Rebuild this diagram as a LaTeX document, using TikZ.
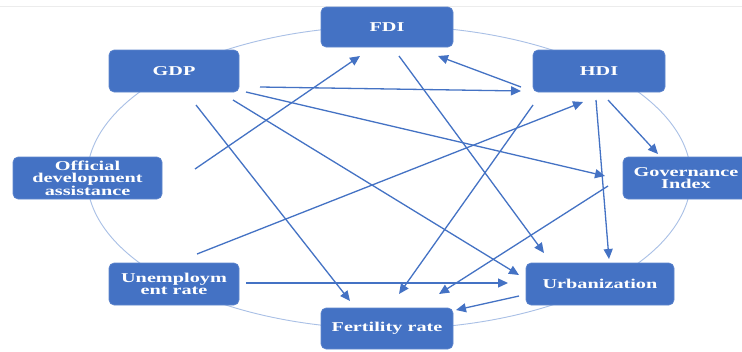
\documentclass[tikz,border=0pt]{standalone}
\usepackage{fontspec}
\setmainfont{Liberation Serif}[FakeStretch=1.5]
\usetikzlibrary{arrows.meta}
\definecolor{boxblue}{HTML}{4472C4}
\definecolor{ringblue}{HTML}{A9C0E6}
\definecolor{topgray}{HTML}{ECECEC}
\tikzset{
  box/.style={draw=boxblue!85!white, line width=0.6pt, fill=boxblue, rounded corners=5pt, text=white,
    font=\bfseries\fontsize{13.5}{12.5}\selectfont, align=center, inner sep=0pt},
  link/.style={draw=boxblue, line width=1.3pt, -{Triangle[length=10pt,width=9pt]}},
  ring/.style={draw=ringblue, line width=0.9pt}
}
\begin{document}
\begin{tikzpicture}[x=1pt,y=-1pt]
\useasboundingbox (0,0) rectangle (742,351);
\clip (0,0) rectangle (742,351);
\fill[white] (0,0) rectangle (742,351);
\draw[topgray, line width=1.2pt] (0,6.5) -- (742,6.5);
\draw[ring] (389,177.5) ellipse [x radius=302, y radius=151.5];

\node[box, minimum width=132pt, minimum height=40pt] (fdi) at (387,27) {FDI};
\node[box, minimum width=130pt, minimum height=42pt] (gdp) at (174,71) {GDP};
\node[box, minimum width=132pt, minimum height=42pt] (hdi) at (599,71) {HDI};
\node[box, minimum width=149pt, minimum height=42pt] (oda) at (87.5,178) {Official\\development\\assistance};
\node[box, minimum width=126pt, minimum height=42pt] (gov) at (686,178) {Governance\\Index};
\node[box, minimum width=130pt, minimum height=42pt] (unemp) at (174,284) {Unemploym\\ent rate};
\node[box, minimum width=132pt, minimum height=41pt] (fert) at (387,328.5) {Fertility rate};
\node[box, minimum width=148pt, minimum height=42pt] (urb) at (600,284) {Urbanization};

\draw[link] ([shift={(86,16)}]gdp.center) -- ([shift={(-78,20)}]hdi.center);
\draw[link] ([shift={(72,21)}]gdp.center) -- ([shift={(-81,-2)}]gov.center);
\draw[link] ([shift={(59,29)}]gdp.center) -- ([shift={(-81,-9)}]urb.center);
\draw[link] ([shift={(22,34)}]gdp.center) -- ([shift={(-37,-27.5)}]fert.center);
\draw[link] ([shift={(107.5,-9)}]oda.center) -- ([shift={(-27,29)}]fdi.center);
\draw[link] ([shift={(12,29)}]fdi.center) -- ([shift={(-56,-31)}]urb.center);
\draw[link] ([shift={(-78,16)}]hdi.center) -- ([shift={(51,29)}]fdi.center);
\draw[link] ([shift={(-66,34)}]hdi.center) -- ([shift={(12,-34.5)}]fert.center);
\draw[link] ([shift={(23,-30)}]unemp.center) -- ([shift={(-16,31)}]hdi.center);
\draw[link] ([shift={(-3,29)}]hdi.center) -- ([shift={(9,-25)}]urb.center);
\draw[link] ([shift={(9,29)}]hdi.center) -- ([shift={(-28,-24)}]gov.center);
\draw[link] ([shift={(-78,8)}]gov.center) -- ([shift={(52,-34.5)}]fert.center);
\draw[link] ([shift={(72,-1)}]unemp.center) -- ([shift={(-92,-1)}]urb.center);
\draw[link] ([shift={(-81,12)}]urb.center) -- ([shift={(69,-18.5)}]fert.center);
\end{tikzpicture}
\end{document}
